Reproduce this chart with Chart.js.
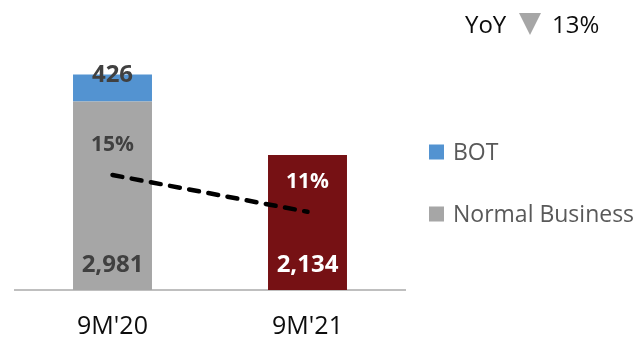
<!DOCTYPE html>
<html>
<head>
<meta charset="utf-8">
<script src="https://cdn.jsdelivr.net/npm/chart.js@4.4.0/dist/chart.umd.min.js"></script>
<style>
    html, body { margin: 0; padding: 0; background: #fff; }
</style>
</head>
<body>
<canvas id="chart-revenue" width="639" height="340"></canvas>
<script>
var periods = ["9M'20", "9M'21"];
var normalBusiness = [2981, 2134];
var bot = [426, 0];
var margin = [15, 11];
var yoyText = ["YoY", "13%"];

var RevenueChart = (function () {
    var obj = {};
    var fontFamily = "'Open Sans', sans-serif";

    obj.init = function () {
        var ctx = document.getElementById('chart-revenue').getContext('2d');

        new Chart(ctx, {
            data: {
                labels: periods,
                datasets: [{
                    type: 'line',
                    label: 'Margin',
                    data: margin,
                    yAxisID: 'y2',
                    order: 0,
                    borderColor: '#000000',
                    borderWidth: 4.5,
                    borderDash: [10, 9.5],
                    borderCapStyle: 'round',
                    pointRadius: 0,
                    fill: false,
                    valueLabel: { at: 'top', offset: 30, font: 'bold 21px ' + fontFamily, colors: ['#404040', '#ffffff'], suffix: '%' }
                }, {
                    type: 'bar',
                    label: 'Normal Business',
                    data: normalBusiness,
                    order: 1,
                    backgroundColor: ['#a6a6a6', '#761114'],
                    legendColor: '#a6a6a6',
                    valueLabel: { at: 'base', offset: 25, font: 'bold 24px ' + fontFamily, colors: ['#404040', '#ffffff'], suffix: '' }
                }, {
                    type: 'bar',
                    label: 'BOT',
                    data: bot,
                    order: 1,
                    backgroundColor: '#5393d1',
                    legendColor: '#5393d1',
                    valueLabel: { at: 'top', offset: -1, font: 'bold 24px ' + fontFamily, colors: ['#404040', '#404040'], suffix: '' }
                }]
            },
            options: {
                responsive: false,
                animation: false,
                layout: {
                    padding: { top: 37, left: 15, right: 234, bottom: 0 }
                },
                datasets: {
                    bar: { categoryPercentage: 1, barPercentage: 0.405 }
                },
                scales: {
                    x: {
                        stacked: true,
                        grid: { display: false, drawTicks: false },
                        border: { display: true, color: '#bfbfbf', width: 2 },
                        ticks: {
                            color: '#0d0d0d',
                            padding: 24,
                            font: { family: fontFamily, size: 25, lineHeight: 1 }
                        },
                        afterFit: function (scale) {
                            scale.height = 50;
                        }
                    },
                    y: {
                        stacked: true,
                        display: false,
                        min: 0,
                        max: 4000
                    },
                    y2: {
                        display: false,
                        min: 2.5,
                        max: 30
                    }
                },
                plugins: {
                    legend: { display: false },
                    tooltip: { enabled: false }
                }
            },
            plugins: [valueLabels, sideLegend, yoyHeader]
        });
    };

    // Etiquetas de valor encima / dentro de cada barra y punto
    var valueLabels = {
        id: 'valueLabels',
        afterDatasetsDraw: function (chart) {
            var c = chart.ctx;
            chart.data.datasets.forEach(function (ds, i) {
                var cfg = ds.valueLabel;
                if (!cfg) return;
                chart.getDatasetMeta(i).data.forEach(function (el, j) {
                    var value = ds.data[j];
                    if (!value) return;
                    var y = cfg.at === 'base' ? el.base - cfg.offset : el.y - cfg.offset;
                    c.save();
                    c.font = cfg.font;
                    c.fillStyle = cfg.colors[j];
                    c.textAlign = 'center';
                    c.textBaseline = 'middle';
                    c.fillText(formatNumber(value) + cfg.suffix, el.x, y);
                    c.restore();
                });
            });
        }
    };

    // Leyenda a la derecha (orden inverso al apilado)
    var sideLegend = {
        id: 'sideLegend',
        afterDraw: function (chart) {
            var c = chart.ctx;
            var x = chart.chartArea.right + 24;
            var y = 152;
            var bars = chart.data.datasets.filter(function (ds) { return ds.type === 'bar'; }).reverse();

            c.save();
            c.font = '23px ' + fontFamily;
            c.textBaseline = 'middle';
            bars.forEach(function (ds) {
                c.fillStyle = ds.legendColor;
                c.fillRect(x, y - 7.5, 15, 15);
                c.fillStyle = '#595959';
                c.fillText(ds.label, x + 24, y + 1);
                y += 62;
            });
            c.restore();
        }
    };

    // Texto "YoY ▼ 13%"
    var yoyHeader = {
        id: 'yoyHeader',
        afterDraw: function (chart) {
            var c = chart.ctx;
            c.save();
            c.font = '24px ' + fontFamily;
            c.fillStyle = '#0d0d0d';
            c.textBaseline = 'alphabetic';
            c.fillText(yoyText[0], 465, 33);
            c.fillText(yoyText[1], 552, 33);

            c.fillStyle = '#a6a6a6';
            c.beginPath();
            c.moveTo(519, 13);
            c.lineTo(541, 13);
            c.lineTo(530, 35);
            c.closePath();
            c.fill();
            c.restore();
        }
    };

    function formatNumber(value) {
        return value.toString().replace(/\B(?=(\d{3})+(?!\d))/g, ',');
    }

    return obj;
}());

RevenueChart.init();
</script>
</body>
</html>
